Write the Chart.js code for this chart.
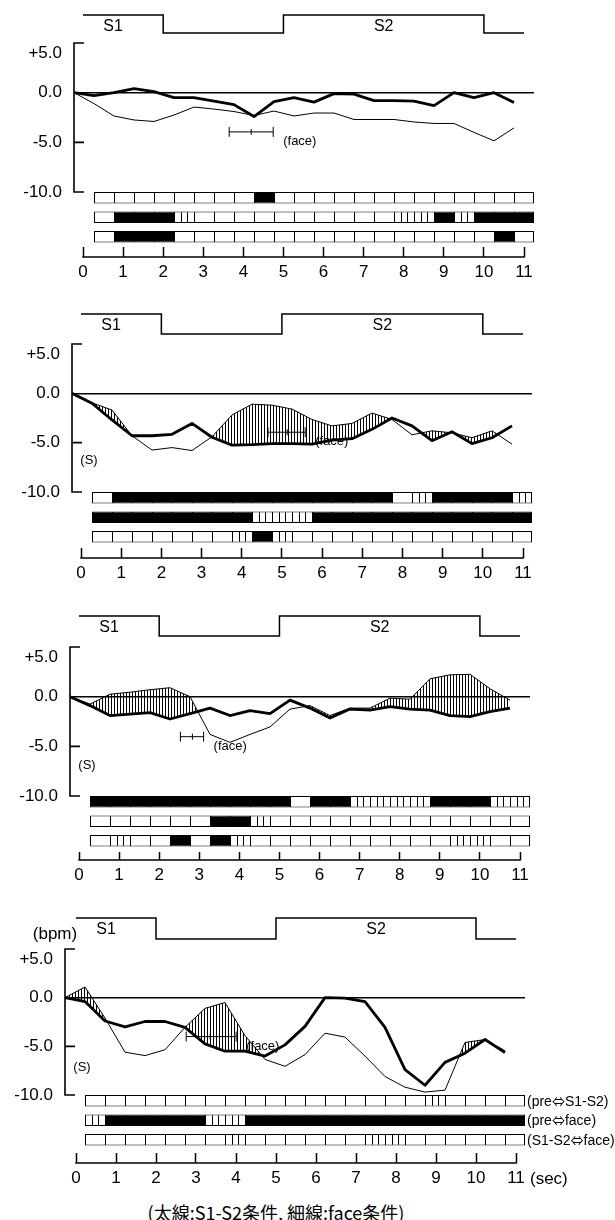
<!DOCTYPE html>
<html><head><meta charset="utf-8">
<script src="https://cdn.jsdelivr.net/npm/chart.js@4.4.1/dist/chart.umd.min.js"></script>
<style>
html,body{margin:0;padding:0;background:#fff;}
#wrap{position:relative;width:615px;height:1220px;overflow:hidden;background:#fff;font-family:'Liberation Sans',Arial,sans-serif;color:#000;}
#wrap canvas{position:absolute;left:0;}
.lbl{position:absolute;white-space:nowrap;line-height:1;color:#000;}
.arrow{font-family:'Noto Sans CJK JP',sans-serif;font-size:13px;}
</style></head><body><div id="wrap"></div>
<script>
// ================= DATA =================
const sampleTimes = [0,0.5,1,1.5,2,2.5,3,3.5,4,4.5,5,5.5,6,6.5,7,7.5,8,8.5,9,9.5,10,10.5,11];
const cellTimes = [0.75,1.25,1.75,2.25,2.75,3.25,3.75,4.25,4.75,5.25,5.75,6.25,6.75,7.25,7.75,8.25,8.75,9.25,9.75,10.25,10.75,11.25];
const tickLabels = ['0','1','2','3','4','5','6','7','8','9','10','11'];
const yTickValues = [5,0,-5,-10];
const stimNames = ['S1','S2'];
const stimOn = [0,5];
const stimOff = [2,10];
const stimEnd = 11;
const stimLabelT = [0.75,7.5];
const rowLegendPairs = [['pre','S1-S2'],['pre','face'],['S1-S2','face']];
const caption = '(太線:S1-S2条件, 細線:face条件)';

// heart-rate change (bpm): thick = S1-S2 condition, thin = face condition
const p1Thick = [0,-0.3,0.0,0.4,0.1,-0.5,-0.5,-0.85,-1.2,-2.4,-0.9,-0.5,-0.95,-0.1,-0.15,-0.8,-0.8,-0.85,-1.3,0,-0.5,0,-1.0];
const p1Thin  = [0,-1.1,-2.35,-2.75,-2.9,-2.25,-1.45,-1.65,-1.9,-2.3,-1.85,-2.35,-2.05,-2.05,-2.7,-2.7,-2.7,-2.95,-3.1,-3.1,-4.0,-4.85,-3.55];
const p2Thick = [0,-1.0,-2.7,-4.3,-4.3,-4.15,-3.05,-4.45,-5.25,-5.2,-5.1,-5.1,-5.15,-4.75,-4.6,-3.65,-2.5,-3.3,-4.8,-3.9,-5.1,-4.5,-3.3];
const p2Thin  = [0,-0.95,-1.7,-4.3,-5.75,-5.5,-5.8,-4.4,-2.2,-1.1,-1.2,-1.6,-2.65,-3.3,-3.05,-2.0,-2.65,-4.2,-3.8,-4.0,-4.5,-3.8,-5.15];
const p3Thick = [0,-0.9,-1.9,-1.75,-1.6,-2.25,-1.7,-1.15,-1.9,-1.4,-1.7,-0.35,-1.15,-2.15,-1.25,-1.35,-1.0,-1.25,-1.35,-1.9,-2.0,-1.5,-1.15];
const p3Thin  = [0,-0.75,0.25,0.45,0.7,0.9,0.0,-3.8,-4.6,-3.8,-3.05,-1.25,-0.9,-1.9,-1.15,-1.15,-0.15,-0.25,1.8,2.2,2.25,0.8,-0.35];
const p4Thick = [0,-0.4,-2.4,-3.0,-2.45,-2.45,-3.05,-4.75,-5.5,-5.5,-6.0,-4.85,-2.95,0,-0.05,-0.4,-3.05,-7.4,-9.0,-6.65,-5.7,-4.3,-5.65];
const p4Thin  = [0,1.1,-2.1,-5.6,-5.95,-5.35,-3.05,-1.1,-0.5,-3.9,-6.35,-7.05,-5.85,-3.65,-4.05,-6.0,-8.1,-9.2,-9.7,-9.5,-4.6,-4.3,-5.45];

// face marker: [start, middle, end (sec), level (bpm)]
const p1Face = [3.88,4.43,4.98,-3.95];
const p2Face = [4.9,5.38,5.83,-3.94];
const p3Face = [2.76,3.06,3.34,-4.03];
const p4Face = [3.03,3.63,4.28,-4.0];
const sLabelLevel = [null,-6.7,-6.75,-7.0];

// significance cells: 0 = n.s., 1 = significant (black), 2 = tendency (striped)
const p1Row1 = [0,0,0,0,0,0,0,0,1,0,0,0,0,0,0,0,0,0,0,0,0,0];
const p1Row2 = [0,1,1,1,2,0,0,0,0,0,0,0,0,0,0,2,2,1,2,1,1,1];
const p1Row3 = [0,1,1,1,0,0,0,0,0,0,0,0,0,0,0,0,0,0,0,0,1,0];
const p2Row1 = [0,1,1,1,1,1,1,1,1,1,1,1,1,1,1,0,2,1,1,1,1,2];
const p2Row2 = [1,1,1,1,1,1,1,1,2,2,2,1,1,1,1,1,1,1,1,1,1,1];
const p2Row3 = [0,0,0,0,0,0,0,2,1,2,0,0,0,0,0,0,0,0,0,0,0,0];
const p3Row1 = [1,1,1,1,1,1,1,1,1,1,0,1,1,2,2,2,2,1,1,1,2,2];
const p3Row2 = [0,0,0,0,0,0,1,1,2,0,0,0,0,0,0,0,0,0,0,0,0,0];
const p3Row3 = [0,2,0,0,1,0,1,2,0,0,0,0,0,0,0,0,0,0,2,2,0,0];
const p4Row1 = [0,0,0,0,0,0,0,0,0,0,0,0,0,0,0,0,0,2,0,0,0,0];
const p4Row2 = [2,1,1,1,1,1,2,2,1,1,1,1,1,1,1,1,1,1,1,1,1,1];
const p4Row3 = [0,0,0,0,0,0,0,2,0,0,0,0,0,0,2,2,0,0,0,0,0,0];

// ================= LAYOUT (page pixels) =================
const XH = 40, PXS = 40, ROW_PITCH = 19.5, ROW_H = 11.5, CELL_W = 0.5, XD_MAX = 11.5;
const layouts = [
  {top:9,   Sh:15,  Sl:33,  Ptop:43,  Pbot:192,  CB:247,  Yx:74, P0:83, P11:524, tickLen:10},
  {top:308, Sh:314, Sl:334, Ptop:344, Pbot:492,  CB:548,  Yx:72, P0:81, P11:523, tickLen:10},
  {top:610, Sh:616, Sl:636, Ptop:647, Pbot:796,  CB:852,  Yx:70, P0:79, P11:520, tickLen:8},
  {top:912, Sh:918, Sl:939, Ptop:949, Pbot:1095, CB:1153, Yx:65, P0:76, P11:516, tickLen:10}
];
const panels = [
  {thick:p1Thick, thin:p1Thin, rows:[p1Row1,p1Row2,p1Row3], face:p1Face},
  {thick:p2Thick, thin:p2Thin, rows:[p2Row1,p2Row2,p2Row3], face:p2Face},
  {thick:p3Thick, thin:p3Thin, rows:[p3Row1,p3Row2,p3Row3], face:p3Face},
  {thick:p4Thick, thin:p4Thin, rows:[p4Row1,p4Row2,p4Row3], face:p4Face}
];

Chart.defaults.font.family = "'Liberation Sans', Arial, sans-serif";
Chart.defaults.color = '#000';
const wrap = document.getElementById('wrap');

function label(text, x, y, size, align, family) {
  const d = document.createElement('div');
  d.className = 'lbl';
  if (Array.isArray(text)) {
    text.forEach(part => {
      const s = document.createElement('span');
      s.textContent = part.t; if (part.cls) s.className = part.cls;
      d.appendChild(s);
    });
  } else d.textContent = text;
  d.style.fontSize = size + 'px';
  if (family) d.style.fontFamily = family;
  d.style.left = x + 'px'; d.style.top = y + 'px';
  d.style.transform = align === 'left' ? 'translate(0,-50%)' : align === 'right' ? 'translate(-100%,-50%)' : 'translate(-50%,-50%)';
  wrap.appendChild(d);
}

function stripePattern(ctx) {
  const c = document.createElement('canvas'); c.width = 3; c.height = 2;
  const g = c.getContext('2d'); g.fillStyle = '#000'; g.fillRect(0, 0, 1, 2);
  return ctx.createPattern(c, 'repeat');
}
function cellPattern(ctx, L) {
  const w = Math.round(CELL_W * PXS);
  const c = document.createElement('canvas'); c.width = w; c.height = 2;
  const g = c.getContext('2d'); g.fillStyle = '#fff'; g.fillRect(0, 0, w, 2);
  g.fillStyle = '#000'; g.fillRect(Math.round(w / 3), 0, 1, 2); g.fillRect(Math.round(2 * w / 3), 0, 1, 2);
  const pat = ctx.createPattern(c, 'repeat');
  const x0 = L.Yx + (cellTimes[0] - CELL_W / 2) * PXS;
  pat.setTransform(new DOMMatrix([1, 0, 0, 1, x0, 0]));
  return pat;
}

const decor = {
  id: 'decor',
  afterDatasetsDraw(chart, args, opts) {
    const ctx = chart.ctx, y = chart.scales.y, xd = chart.scales.xd, xt = chart.scales.xt;
    ctx.save();
    ctx.strokeStyle = '#000'; ctx.lineWidth = 1.6;
    const ax = chart.chartArea.left;
    ctx.beginPath();
    ctx.moveTo(ax, y.getPixelForValue(5) - 0.8); ctx.lineTo(ax, y.getPixelForValue(-10) + 0.8);
    for (const v of [5, -5, -10]) { const py = y.getPixelForValue(v); ctx.moveTo(ax - 0.8, py); ctx.lineTo(ax + 10, py); }
    ctx.stroke();
    const by = xt.top + opts.tickLen;
    ctx.beginPath(); ctx.moveTo(xt.getPixelForValue(0) - 0.75, by); ctx.lineTo(xt.getPixelForValue(11) + 0.75, by); ctx.stroke();
    const f = opts.face;
    ctx.lineWidth = 1;
    const fy = y.getPixelForValue(f[3]);
    ctx.beginPath();
    ctx.moveTo(xd.getPixelForValue(f[0]), fy); ctx.lineTo(xd.getPixelForValue(f[2]), fy);
    [[f[0], 5], [f[1], 3], [f[2], 5]].forEach(([v, h]) => { const px = xd.getPixelForValue(v); ctx.moveTo(px, fy - h); ctx.lineTo(px, fy + h); });
    ctx.stroke();
    ctx.restore();
  }
};

panels.forEach((P, idx) => {
  const L = layouts[idx];
  const H = L.CB - L.top + XH;
  const canvas = document.createElement('canvas');
  canvas.width = 615; canvas.height = H;
  canvas.style.top = L.top + 'px'; canvas.style.width = '615px'; canvas.style.height = H + 'px';
  wrap.appendChild(canvas);
  const ctx = canvas.getContext('2d');
  const right = L.Yx + XD_MAX * PXS;
  const bpp = 15 / (L.Pbot - L.Ptop);
  const yMax = 5 + (L.Ptop - L.top) * bpp, yMin = -10 - (L.CB - L.Pbot) * bpp;
  const sp = 1 / (L.Sl - L.Sh);
  const sMax = 1 + (L.Sh - L.top) * sp, sMin = -(L.CB - L.Sl) * sp;
  const tpx = (L.P11 - L.P0) / 11;
  const tMin = -(L.P0 - L.Yx) / tpx, tMax = 11 + (right - L.P11) / tpx;

  const stimPts = [];
  stimOn.forEach((on, k) => {
    if (k === 0) stimPts.push({x: on, y: 1});
    else { stimPts.push({x: on, y: 0}); stimPts.push({x: on, y: 1}); }
    stimPts.push({x: stimOff[k], y: 1}); stimPts.push({x: stimOff[k], y: 0});
  });
  stimPts.push({x: stimEnd, y: 0});

  const hatchCell = cellPattern(ctx, L);
  const datasets = [
    {type: 'line', data: stimPts, xAxisID: 'xt', yAxisID: 'ys', borderColor: '#000', borderWidth: 1.5, pointRadius: 0, fill: false, tension: 0},
    {type: 'line', data: P.thick.map((v, i) => ({x: sampleTimes[i], y: v})), xAxisID: 'xd', yAxisID: 'y', borderColor: '#000', borderWidth: 2.8, pointRadius: 0, fill: false, tension: 0, borderJoinStyle: 'round'},
    {type: 'line', data: P.thin.map((v, i) => ({x: sampleTimes[i], y: v})), xAxisID: 'xd', yAxisID: 'y', borderColor: '#000', borderWidth: 1, pointRadius: 0, tension: 0,
      fill: {target: 1, above: stripePattern(ctx), below: 'rgba(0,0,0,0)'}}
  ];
  P.rows.forEach((row, r) => {
    datasets.push({
      type: 'bar', xAxisID: 'xd', yAxisID: 'yc', grouped: false,
      data: row.map((t, i) => ({x: cellTimes[i], y: [r * ROW_PITCH, r * ROW_PITCH + ROW_H]})),
      barPercentage: 1, categoryPercentage: 1, inflateAmount: 0, borderSkipped: false,
      borderColor: '#000',
      borderWidth: c => ({top: 1, bottom: 1, left: 1, right: c.dataIndex === row.length - 1 ? 1 : 0}),
      backgroundColor: c => row[c.dataIndex] === 1 ? '#000' : row[c.dataIndex] === 2 ? hatchCell : '#fff'
    });
  });

  const chart = new Chart(ctx, {
    type: 'line',
    data: {datasets},
    plugins: [decor],
    options: {
      responsive: false, animation: false, devicePixelRatio: 1, events: [],
      layout: {autoPadding: false, padding: {left: 0, top: 0, bottom: 0, right: 615 - right}},
      plugins: {legend: {display: false}, tooltip: {enabled: false}, decor: {tickLen: L.tickLen, face: P.face}},
      scales: {
        xd: {type: 'linear', display: false, offset: false, grid: {offset: false}, min: 0, max: XD_MAX, ticks: {stepSize: 0.5, includeBounds: false}},
        xt: {type: 'linear', position: 'bottom', offset: false, min: tMin, max: tMax,
          afterFit: s => { s.height = XH; s.paddingLeft = 0; s.paddingRight = 0; s.paddingTop = 0; s.paddingBottom = 0; },
          afterBuildTicks: s => { s.ticks = tickLabels.map((_, i) => ({value: i})); },
          ticks: {autoSkip: false, maxRotation: 0, minRotation: 0, padding: 5, color: '#000', font: {size: 17}, callback: v => tickLabels[v]},
          grid: {display: true, drawOnChartArea: false, drawTicks: true, tickLength: L.tickLen, tickColor: '#000', tickWidth: 1.5, color: '#000'},
          border: {display: false}},
        y: {type: 'linear', position: 'left', min: yMin, max: yMax,
          afterFit: s => { s.width = L.Yx; s.paddingTop = 0; s.paddingBottom = 0; s.paddingLeft = 0; s.paddingRight = 0; },
          afterBuildTicks: s => { s.ticks = yTickValues.map(v => ({value: v})); },
          ticks: {padding: 12, color: '#000', font: {size: 17, lineHeight: 1.25},
            callback: v => v > 0 ? ['', '+' + v.toFixed(1)] : v.toFixed(1)},
          grid: {drawTicks: false, lineWidth: 1.6, color: c => (c.tick && c.tick.value === 0) ? '#000' : 'rgba(0,0,0,0)'},
          border: {display: false}},
        ys: {type: 'linear', display: false, min: sMin, max: sMax},
        yc: {type: 'linear', display: false, reverse: true, beginAtZero: false, min: -(L.Pbot - L.top), max: L.CB - L.Pbot}
      }
    }
  });

  // text annotations positioned through the chart scales
  const xt = chart.scales.xt, xd = chart.scales.xd, ys = chart.scales.y;
  stimNames.forEach((n, k) => label(n, xt.getPixelForValue(stimLabelT[k]), L.Sh + 11, 16, 'center'));
  label('(face)', xd.getPixelForValue(P.face[2]) + 10, L.top + ys.getPixelForValue(P.face[3]) + 8, 13, 'left');
  if (sLabelLevel[idx] !== null) label('(S)', L.Yx + 17, L.top + ys.getPixelForValue(sLabelLevel[idx]), 13, 'center');
  if (idx === 3) {
    label('(bpm)', L.Yx - 10, L.Sh + 15, 17, 'center');
    label('(sec)', xt.getPixelForValue(11) + 14, L.CB + L.tickLen + 15, 17, 'left');
    const yc = chart.scales.yc;
    rowLegendPairs.forEach((pair, r) => {
      label([{t: '(' + pair[0]}, {t: '\u21D4', cls: 'arrow'}, {t: pair[1] + ')'}],
        right + 2, L.top + yc.getPixelForValue(r * ROW_PITCH + ROW_H / 2), 14, 'left');
    });
    label(caption, 276, 1212, 18, 'center', "'Noto Sans CJK JP', sans-serif");
  }
});
</script></body></html>
